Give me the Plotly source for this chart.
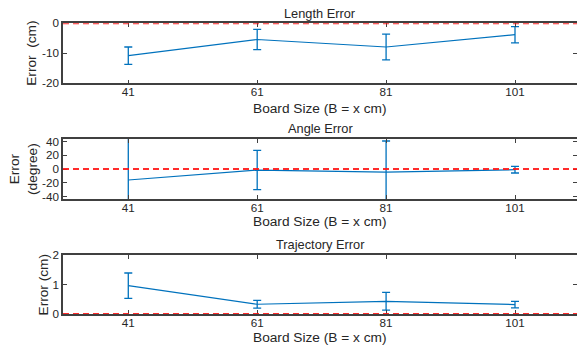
import plotly.graph_objects as go

board_sizes = [41, 61, 81, 101]

length_err_mean = [-10.8, -5.4, -7.9, -3.8]
length_err_sd = [2.9, 3.4, 4.3, 2.7]

angle_err_mean = [-16.0, -1.5, -4.4, -1.0]
angle_err_sd = [65.0, 28.6, 45.1, 4.8]

traj_err_mean = [0.96, 0.33, 0.43, 0.32]
traj_err_sd = [0.43, 0.13, 0.30, 0.11]

x_ticks = [41, 61, 81, 101]
y_ticks_1 = [-20, -10, 0]
y_ticks_2 = [-40, -20, 0, 20, 40]
y_ticks_3 = [0, 1, 2]

titles = ["Length Error", "Angle Error", "Trajectory Error"]
y_titles = ["Error  (cm)", "Error<br>(degree)", "Error (cm)"]
x_title = "Board Size (B = x cm)"

BLUE = "#0072BD"
AXC = "#404040"
FONT = "Liberation Sans, Arial, sans-serif"

W, H = 577, 349
L = 63
# panel pixel extents (top, bottom)
panels_px = [(23.3, 83.3), (139, 199), (255, 314)]
y_ranges = [[-20, 0], [-43.6, 43.6], [0, 2]]
y_ticks = [y_ticks_1, y_ticks_2, y_ticks_3]
means = [length_err_mean, angle_err_mean, traj_err_mean]
sds = [length_err_sd, angle_err_sd, traj_err_sd]
title_y_px = [13, 128.5, 244]
xlabel_y_px = [108.5, 222, 337]
ytitle_x_px = [31.5, 24, 43]
center_x = (320 - L) / (W - L)

fig = go.Figure()

for i in range(3):
    n = i + 1
    xa = "x" if n == 1 else f"x{n}"
    ya = "y" if n == 1 else f"y{n}"
    fig.add_trace(go.Scatter(
        x=board_sizes, y=means[i], mode="lines",
        line=dict(color=BLUE, width=1.2),
        error_y=dict(type="data", array=sds[i], visible=True,
                     color=BLUE, thickness=1.3, width=4),
        xaxis=xa, yaxis=ya, showlegend=False, cliponaxis=True,
    ))
    top, bot = panels_px[i]
    dom = [1 - bot / H, 1 - top / H]
    axis_common = dict(showline=True, linecolor=AXC, linewidth=1.5,
                       mirror="ticks", ticks="inside", ticklen=4,
                       tickcolor=AXC, tickwidth=1, showgrid=False,
                       zeroline=False, automargin=False,
                       tickfont=dict(family=FONT, size=11.7, color="#262626"))
    fig.update_layout(**{
        ("xaxis" if n == 1 else f"xaxis{n}"): dict(
            domain=[0, 1], range=[30.87, 110.62], tickvals=x_ticks,
            anchor=ya, ticklabelstandoff=-3, **axis_common),
        ("yaxis" if n == 1 else f"yaxis{n}"): dict(
            domain=dom, range=y_ranges[i], tickvals=y_ticks[i],
            ticktext=[str(v).replace("-", "-") for v in y_ticks[i]],
            anchor=xa, **axis_common),
    })
    # zero reference line
    fig.add_shape(type="line", xref=f"{xa} domain", yref=ya,
                  x0=0, x1=1, y0=0, y1=0, layer="above",
                  line=dict(color="rgba(255,20,20,0.9)", width=1.8, dash="6px,4px"))
    # title
    fig.add_annotation(text=titles[i], xref="paper", yref="paper",
                       x=center_x, y=1 - title_y_px[i] / H,
                       xanchor="center", yanchor="middle",
                       showarrow=False, font=dict(family=FONT, size=12.8, color="#262626"))
    # x label
    fig.add_annotation(text=x_title, xref="paper", yref="paper",
                       x=center_x, y=1 - xlabel_y_px[i] / H,
                       xanchor="center", yanchor="middle", showarrow=False,
                       font=dict(family=FONT, size=13.7, color="#262626"))
    # y label
    fig.add_annotation(text=y_titles[i], xref="paper", yref="paper",
                       x=0, xshift=ytitle_x_px[i] - L, y=1 - (top + bot) / 2 / H,
                       xanchor="center", yanchor="middle", textangle=-90,
                       showarrow=False,
                       font=dict(family=FONT, size=13.7, color="#262626"))

fig.update_layout(width=W, height=H, autosize=False,
                  margin=dict(l=L, r=0, t=0, b=0, pad=0),
                  paper_bgcolor="white", plot_bgcolor="white")

fig.write_html("out.html")
